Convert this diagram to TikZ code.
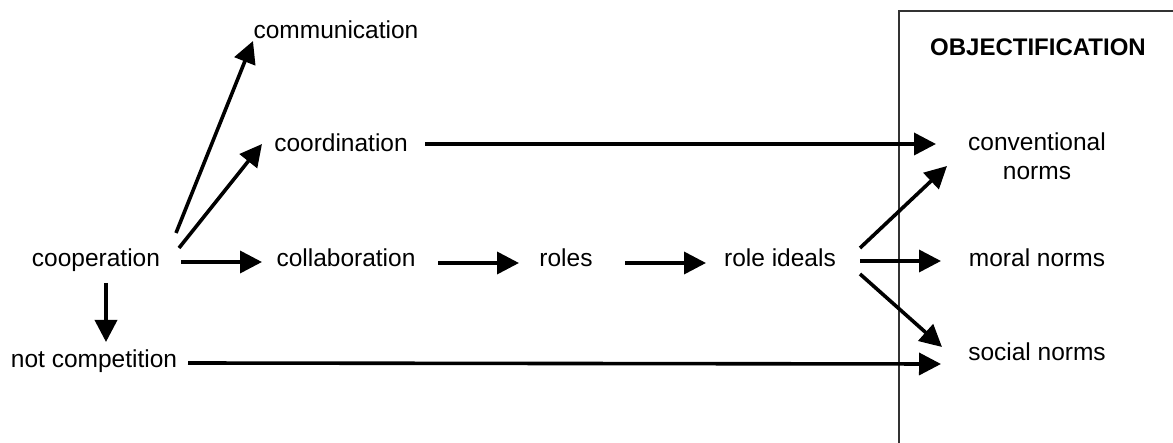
\documentclass[tikz,border=0pt]{standalone}
\usepackage{fontspec}
\setmainfont{Liberation Sans}
\usetikzlibrary{arrows.meta}
\begin{document}
\begin{tikzpicture}[x=1pt,y=-1pt,
  txt/.style={inner sep=0pt,font=\fontsize{24.5}{28.5}\selectfont},
  lbl/.style={txt,text height=21pt,text depth=3pt},
  flow/.style={line width=3.6pt,-{Triangle[length=22pt,width=22pt]}}]
\clip (0,0) rectangle (1173,443);
\fill[white] (0,0) rectangle (1173,443);

% objectification frame, running off the right and bottom edges
\draw[line width=1.4pt,black!80] (899,11) rectangle (1200,470);

% concepts
\node[lbl] (coop)    at (96,258)  {cooperation};
\node[lbl] (comm)    at (336,30)  {communication};
\node[lbl] (coord)   at (341,143) {coordination};
\node[lbl] (collab)  at (346,258) {collaboration};
\node[lbl] (notcomp) at (94,359)  {not competition};
\node[lbl] (roles)   at (566,258) {roles};
\node[lbl] (ideals)  at (780,258) {role ideals};
\node[txt,text height=18pt,text depth=6pt,font=\fontsize{24}{28.5}\selectfont\bfseries] (obj) at (1038,50) {OBJECTIFICATION};
\node[txt,align=center,anchor=north] (conv) at (1037,133) {conventional\\norms};
\node[lbl] (moral)   at (1037,258) {moral norms};
\node[lbl] (social)  at (1037,352) {social norms};

% connectors
\draw[flow] ([shift={(80,-25)}]coop.center)  -- ([shift={(-83,11)}]comm.center);
\draw[flow] ([shift={(83,-10)}]coop.center)  -- ([shift={(-79,1)}]coord.center);
\draw[flow] ([shift={(85,4)}]coop.center)    -- ([shift={(-84,4)}]collab.center);
\draw[flow] ([shift={(10,25)}]coop.center)   -- ([shift={(12,-17)}]notcomp.center);
\draw[flow] ([shift={(94,4)}]notcomp.center) -- ([shift={(-96,12)}]social.center);
\draw[flow] ([shift={(84,1)}]coord.center)   -- ([shift={(-101,11)}]conv.north);
\draw[flow] ([shift={(92,5)}]collab.center)  -- ([shift={(-47,5)}]roles.center);
\draw[flow] ([shift={(59,5)}]roles.center)   -- ([shift={(-74,5)}]ideals.center);
\draw[flow] ([shift={(80,-10)}]ideals.center) -- ([shift={(-90,33)}]conv.north);
\draw[flow] ([shift={(80,3)}]ideals.center)  -- ([shift={(-96,3)}]moral.center);
\draw[flow] ([shift={(80,16)}]ideals.center) -- ([shift={(-95,-5)}]social.center);
\end{tikzpicture}
\end{document}
